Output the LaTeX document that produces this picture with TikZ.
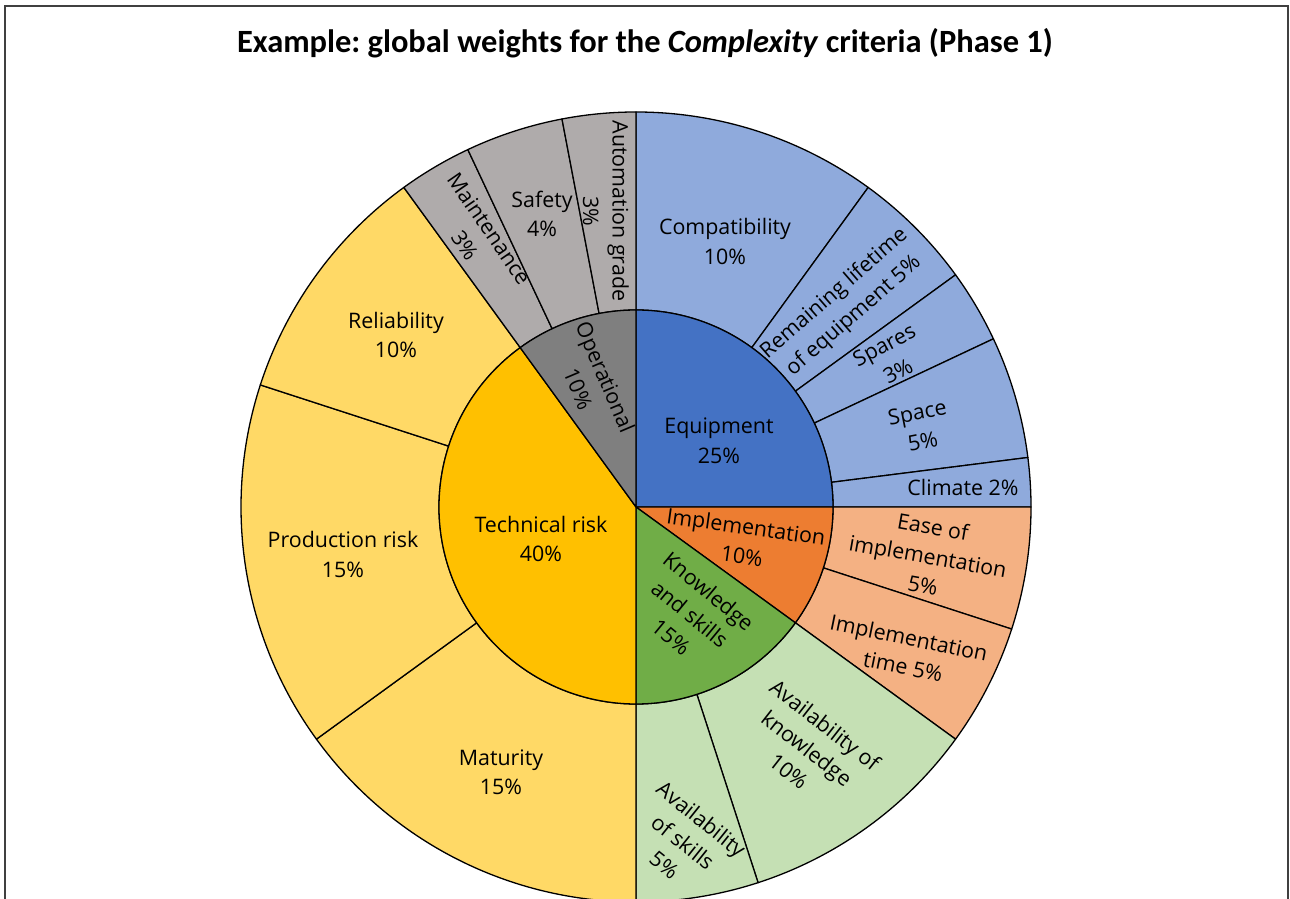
\documentclass[tikz,border=0pt]{standalone}
\usepackage{fontspec}
\setmainfont{Open Sans}
\newfontfamily\titlefont{Carlito}
\newfontfamily\labelfont{Open Sans}
\frenchspacing

% ring colours: dark = category, light = criterion
\definecolor{equipD}{HTML}{4472C4}\definecolor{equipL}{HTML}{8FAADC}
\definecolor{implD}{HTML}{ED7D31}\definecolor{implL}{HTML}{F4B183}
\definecolor{knowD}{HTML}{70AD47}\definecolor{knowL}{HTML}{C5E0B4}
\definecolor{techD}{HTML}{FFC000}\definecolor{techL}{HTML}{FFD966}
\definecolor{operD}{HTML}{7F7F7F}\definecolor{operL}{HTML}{AFABAB}
\definecolor{framegray}{HTML}{404040}

\newlength\titlew
\newlength\lblw

% ring sector between two radii, angles in degrees
\newcommand\ringsector[5]{%
  \filldraw[sectorline, fill=#5] (#3:#2) arc[start angle=#3, end angle=#4, radius=#2]
    -- (#4:#1) arc[start angle=#4, end angle=#3, radius=#1] -- cycle;}
% pie slice from the centre
\newcommand\pieslice[4]{%
  \filldraw[sectorline, fill=#4] (0,0) -- (#2:#1) arc[start angle=#2, end angle=#3, radius=#1] -- cycle;}

\begin{document}
% font sizes fitted to the intended text widths
\settowidth\titlew{\titlefont\bfseries\fontsize{10pt}{12pt}\selectfont Example: global weights for the \textit{Complexity} criteria (Phase 1)}%
\settowidth\lblw{\labelfont\fontsize{10pt}{12pt}\selectfont Compatibility}%
\pgfmathsetmacro\titlesize{10*816/\titlew}%
\pgfmathsetmacro\lblsize{10*132/\lblw}%
\begin{tikzpicture}[x=1pt, y=1pt,
  sectorline/.style={draw=black, line width=1.3pt, line join=round},
  frameline/.style={draw=framegray, line width=2pt},
  lbl/.style={font=\labelfont\fontsize{\lblsize pt}{29.5pt}\selectfont, align=center, inner sep=0pt, text=black},
  ttl/.style={font=\titlefont\bfseries\fontsize{\titlesize pt}{\titlesize pt}\selectfont, inner sep=0pt, anchor=base}]

  \useasboundingbox (0,0) rectangle (1290,899);
  \clip (0,0) rectangle (1290,899);
  \fill[white] (0,0) rectangle (1290,899);

  % outer frame, running off the lower edge
  \draw[frameline] (5,-20) rectangle (1288,893);

  \node[ttl] (title) at (645,846) {Example: global weights for the \textit{Complexity} criteria (Phase 1)};

  \begin{scope}[shift={(636,392)}]
    % outer ring: criteria
    \ringsector{197}{395}{54}{90}{equipL}
    \ringsector{197}{395}{36}{54}{equipL}
    \ringsector{197}{395}{25.2}{36}{equipL}
    \ringsector{197}{395}{7.2}{25.2}{equipL}
    \ringsector{197}{395}{0}{7.2}{equipL}
    \ringsector{197}{395}{-18}{0}{implL}
    \ringsector{197}{395}{-36}{-18}{implL}
    \ringsector{197}{395}{-72}{-36}{knowL}
    \ringsector{197}{395}{-90}{-72}{knowL}
    \ringsector{197}{395}{216}{270}{techL}
    \ringsector{197}{395}{162}{216}{techL}
    \ringsector{197}{395}{126}{162}{techL}
    \ringsector{197}{395}{115.2}{126}{operL}
    \ringsector{197}{395}{100.8}{115.2}{operL}
    \ringsector{197}{395}{90}{100.8}{operL}
    % inner ring: categories
    \pieslice{197}{0}{90}{equipD}
    \pieslice{197}{-36}{0}{implD}
    \pieslice{197}{-90}{-36}{knowD}
    \pieslice{197}{126}{270}{techD}
    \pieslice{197}{90}{126}{operD}
  \end{scope}

  % category labels
  \node[lbl] (equipment) at (719,458) {Equipment\\25\%};
  \node[lbl, rotate=-8] (implementation) at (744,358) {Implementation\\10\%};
  \node[lbl, rotate=-39.5] (knowledge) at (690,285) {Knowledge\\and skills\\15\%};
  \node[lbl] (technical) at (541,360) {Technical risk\\40\%};
  \node[lbl, rotate=-67] (operational) at (592,516) {Operational\\10\%};

  % criterion labels
  \node[lbl] (compat) at (725,657.5) {Compatibility\\10\%};
  \node[lbl, rotate=41] (lifetime) at (844,594) {Remaining lifetime\\of equipment 5\%};
  \node[lbl, rotate=28] (spares) at (891,541) {Spares\\3\%};
  \node[lbl, rotate=11] (space) at (920,472) {Space\\5\%};
  \node[lbl] (climate) at (963,412) {Climate 2\%};
  \node[lbl, rotate=-10] (ease) at (928,343) {Ease of\\implementation\\5\%};
  \node[lbl, rotate=-11.5] (impltime) at (906,247) {Implementation\\time 5\%};
  \node[lbl, rotate=-38] (availknow) at (807,151) {Availability of\\knowledge\\10\%};
  \node[lbl, rotate=-38.7] (availskill) at (683,57) {Availability\\of skills\\5\%};
  \node[lbl] (maturity) at (501,126.5) {Maturity\\15\%};
  \node[lbl] (production) at (343,344.5) {Production risk\\15\%};
  \node[lbl] (reliability) at (396,564) {Reliability\\10\%};
  \node[lbl, rotate=-55.5] (maintenance) at (477,662) {Maintenance\\3\%};
  \node[lbl] (safety) at (542,685) {Safety\\4\%};
  \node[lbl, rotate=-90] (automation) at (606,688) {Automation grade\\3\%};
\end{tikzpicture}
\end{document}
